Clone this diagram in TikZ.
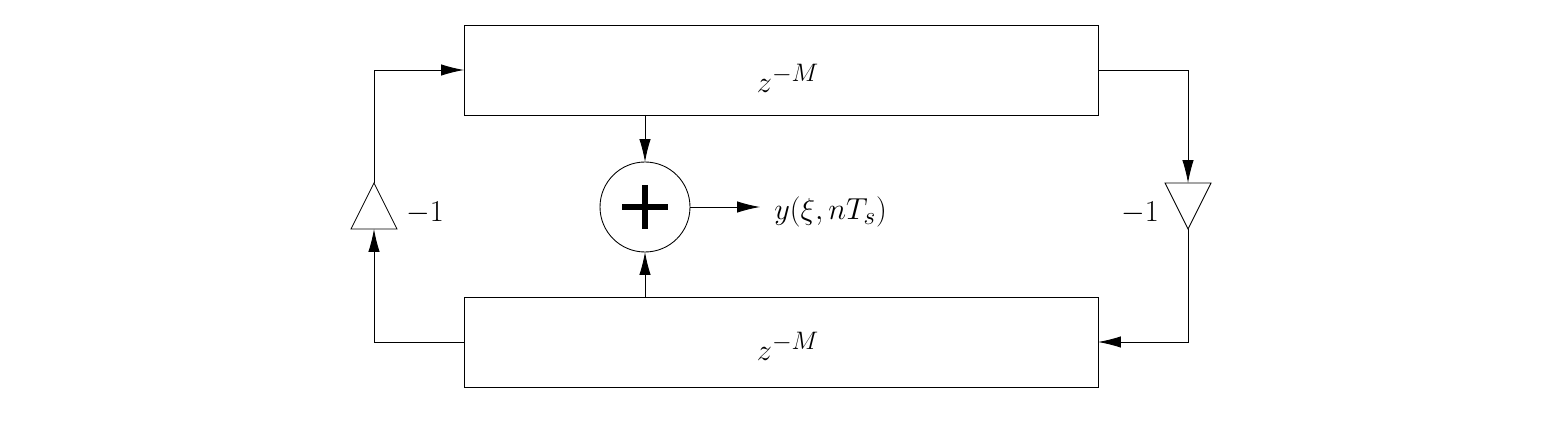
\documentclass[tikz,border=0pt]{standalone}
\usetikzlibrary{arrows.meta}
\begin{document}
\begin{tikzpicture}[x=0.02cm,y=-0.02cm,
  arr/.style={-{Latex[length=13pt,width=6.5pt]}},
  lbl/.style={font=\fontsize{19}{22}\selectfont},
  every path/.style={line width=0.5pt}]
\useasboundingbox (0,0) rectangle (1564,425);
\draw (464,25) rectangle (1098,115);
\draw (464,297) rectangle (1098,387);
\node[lbl] (zt) at (788,78) {$z^{-M}$};
\node[lbl] (zb) at (788,346) {$z^{-M}$};
\draw (645,207) circle (45);
\draw[line width=3pt] (622,207) -- (668,207) (645,185) -- (645,229);
% triangles
\draw (374,183) -- (397,229) -- (351,229) -- cycle;
\draw (1165,183) -- (1211,183) -- (1188,229) -- cycle;
\node[lbl] (ml) at (425,213) {$-1$};
\node[lbl] (mr) at (1140,213) {$-1$};
\node[lbl,anchor=west] (y) at (768,212) {$y(\xi,nT_s)$};
% connectors
\draw[arr] (464,342) -- (374,342) -- (374,229);
\draw[arr] (374,183) -- (374,70) -- (464,70);
\draw[arr] (1098,70) -- (1188,70) -- (1188,183);
\draw[arr] (1188,229) -- (1188,342) -- (1098,342);
\draw[arr] (645,115) -- (645,162);
\draw[arr] (645,297) -- (645,252);
\draw[arr] (690,207) -- (760,207);
\end{tikzpicture}
\end{document}
